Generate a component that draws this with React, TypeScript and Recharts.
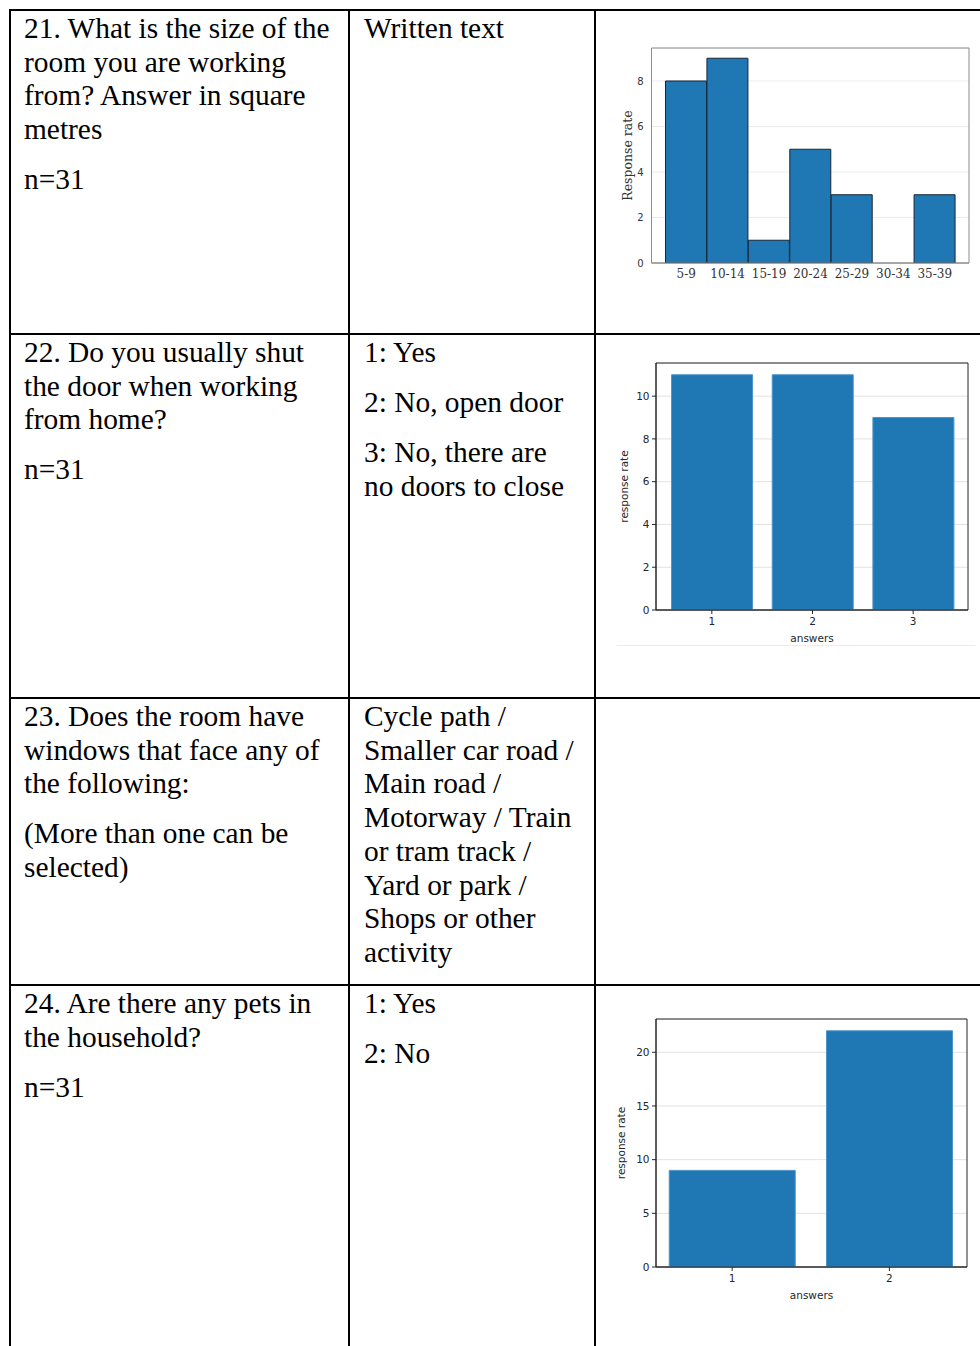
import { Bar, BarChart, CartesianGrid, XAxis, YAxis } from 'recharts';

// Q21 histogram: room size in square metres
const roomSizeBins = ['5-9', '10-14', '15-19', '20-24', '25-29', '30-34', '35-39'];
const roomSizeCounts = [8, 9, 1, 5, 3, 0, 3];
const roomSizeTicks = [0, 2, 4, 6, 8];

// Q22: shut the door?
const doorAnswers = ['1', '2', '3'];
const doorCounts = [11, 11, 9];
const doorTicks = [0, 2, 4, 6, 8, 10];

// Q24: pets in household?
const petAnswers = ['1', '2'];
const petCounts = [9, 22];
const petTicks = [0, 5, 10, 15, 20];

// table text
const questions = [
  [['21. What is the size of the', 'room you are working', 'from? Answer in square', 'metres'], ['n=31']],
  [['22. Do you usually shut', 'the door when working', 'from home?'], ['n=31']],
  [['23. Does the room have', 'windows that face any of', 'the following:'], ['(More than one can be', 'selected)']],
  [['24. Are there any pets in', 'the household?'], ['n=31']],
];
const answerTexts = [
  [['Written text']],
  [['1: Yes'], ['2: No, open door'], ['3: No, there are', 'no doors to close']],
  [['Cycle path /', 'Smaller car road /', 'Main road /', 'Motorway / Train', 'or tram track /', 'Yard or park /', 'Shops or other', 'activity']],
  [['1: Yes'], ['2: No']],
];

const ROW_LINES = [9, 333, 697, 984];
const COL_LINES = [9, 348, 594];

const SANS = '"DejaVu Sans", sans-serif';
const PLOT_SERIF = '"DejaVu Serif", serif';
const BLUE = '#1f77b4';

// box around the plot area, drawn as a grid with only the edge lines
const edgesH = ({ offset }: any) => [offset.top, offset.top + offset.height];
const edgesV = ({ offset }: any) => [offset.left, offset.left + offset.width];

function Cell({ left, top, paras }: { left: number; top: number; paras: string[][] }) {
  return (
    <div
      style={{
        position: 'absolute',
        left,
        top,
        fontFamily: '"Liberation Serif", "Times New Roman", serif',
        fontSize: 29.4,
        lineHeight: '33.7px',
        color: '#000',
        whiteSpace: 'nowrap',
      }}
    >
      {paras.map((lines, i) => (
        <div key={i} style={{ marginBottom: 16.3 }}>
          {lines.map((l, j) => (
            <div key={j}>{l}</div>
          ))}
        </div>
      ))}
    </div>
  );
}

function RoomSizeChart() {
  const data = roomSizeBins.map((bin, i) => ({ bin, count: roomSizeCounts[i] }));
  const yMax = Math.max(...roomSizeCounts) * 1.05;
  const frame = '#8c8c8c';
  return (
    <div style={{ position: 'absolute', left: 600, top: 35 }}>
      <BarChart
        width={380}
        height={260}
        data={data}
        margin={{ top: 13, right: 11, bottom: 4, left: 0 }}
        barCategoryGap={0}
      >
        <CartesianGrid vertical={false} stroke="#ececec" />
        <XAxis
          dataKey="bin"
          height={28}
          interval={0}
          padding={{ left: 14, right: 13.5 }}
          axisLine={{ stroke: frame }}
          tickLine={false}
          tickSize={0}
          tickMargin={6}
          tick={{ fontFamily: PLOT_SERIF, fontSize: 12, fill: '#333' }}
        />
        <YAxis
          width={51.5}
          domain={[0, yMax]}
          ticks={roomSizeTicks}
          allowDataOverflow
          axisLine={{ stroke: frame }}
          tickLine={false}
          tickSize={0}
          tickMargin={8}
          tick={{ fontFamily: SANS, fontSize: 10, fill: '#333' }}
          label={{
            value: 'Response rate',
            angle: -90,
            position: 'insideLeft',
            offset: 28,
            style: { textAnchor: 'middle', fontFamily: PLOT_SERIF, fontSize: 12.5, fill: '#333' },
          }}
        />
        <Bar dataKey="count" fill={BLUE} stroke="#15283a" strokeWidth={1} isAnimationActive={false} />
        <CartesianGrid stroke={frame} fill="none" horizontalCoordinatesGenerator={edgesH} verticalCoordinatesGenerator={edgesV} />
      </BarChart>
    </div>
  );
}

type AnswersProps = {
  top: number;
  answers: string[];
  counts: number[];
  ticks: number[];
  marginTop: number;
  marginRight: number;
  xAxisHeight: number;
  padding: { left: number; right: number };
  labelOffset: number;
  xLabelOffset: number;
};

function AnswersChart({ top, answers, counts, ticks, marginTop, marginRight, xAxisHeight, padding, labelOffset, xLabelOffset }: AnswersProps) {
  const data = answers.map((answer, i) => ({ answer, count: counts[i] }));
  const yMax = Math.max(...counts) * 1.05;
  const frame = '#262626';
  const tickStyle = { fontFamily: SANS, fontSize: 10.5, fill: '#262626' };
  return (
    <div style={{ position: 'absolute', left: 600, top }}>
      <BarChart
        width={380}
        height={300}
        data={data}
        margin={{ top: marginTop, right: marginRight, bottom: 4, left: 0 }}
        barCategoryGap="10%"
      >
        <CartesianGrid vertical={false} stroke="#e2e2e2" />
        <XAxis
          dataKey="answer"
          height={xAxisHeight}
          padding={padding}
          axisLine={{ stroke: frame }}
          tickLine={{ stroke: frame }}
          tickSize={4}
          tickMargin={4}
          tick={tickStyle}
          label={{
            value: 'answers',
            position: 'insideBottom',
            offset: xLabelOffset,
            style: { fontFamily: SANS, fontSize: 10.5, fill: '#262626' },
          }}
        />
        <YAxis
          width={56}
          domain={[0, yMax]}
          ticks={ticks}
          allowDataOverflow
          axisLine={{ stroke: frame }}
          tickLine={{ stroke: frame }}
          tickSize={4}
          tickMargin={2.5}
          tick={tickStyle}
          label={{
            value: 'response rate',
            angle: -90,
            position: 'insideLeft',
            offset: labelOffset,
            style: { textAnchor: 'middle', fontFamily: SANS, fontSize: 10.5, fill: '#262626' },
          }}
        />
        <Bar dataKey="count" fill={BLUE} stroke="#4d93c9" strokeWidth={1} isAnimationActive={false} />
        <CartesianGrid stroke={frame} fill="none" horizontalCoordinatesGenerator={edgesH} verticalCoordinatesGenerator={edgesV} />
      </BarChart>
    </div>
  );
}

export default function App() {
  return (
    <div style={{ position: 'absolute', left: 0, top: 0, width: 980, height: 1346, background: '#fff', overflow: 'hidden' }}>
      {ROW_LINES.map((y) => (
        <div key={'r' + y} style={{ position: 'absolute', left: 9, top: y, width: 971, height: 2, background: '#000' }} />
      ))}
      {COL_LINES.map((x) => (
        <div key={'c' + x} style={{ position: 'absolute', left: x, top: 9, width: 2, height: 1337, background: '#000' }} />
      ))}

      {questions.map((paras, i) => (
        <Cell key={'q' + i} left={24} top={ROW_LINES[i] + 3} paras={paras} />
      ))}
      {answerTexts.map((paras, i) => (
        <Cell key={'a' + i} left={364} top={ROW_LINES[i] + 3} paras={paras} />
      ))}

      <RoomSizeChart />
      <AnswersChart
        top={350}
        answers={doorAnswers}
        counts={doorCounts}
        ticks={doorTicks}
        marginTop={13}
        marginRight={12}
        xAxisHeight={36}
        padding={{ left: 5.5, right: 4.5 }}
        labelOffset={24}
        xLabelOffset={4.5}
      />
      <div style={{ position: 'absolute', left: 617, top: 645, width: 358, height: 1, background: '#ececec' }} />
      <AnswersChart
        top={1005}
        answers={petAnswers}
        counts={petCounts}
        ticks={petTicks}
        marginTop={14}
        marginRight={13}
        xAxisHeight={34}
        padding={{ left: -2.5, right: -1 }}
        labelOffset={21.5}
        xLabelOffset={2.5}
      />
    </div>
  );
}
